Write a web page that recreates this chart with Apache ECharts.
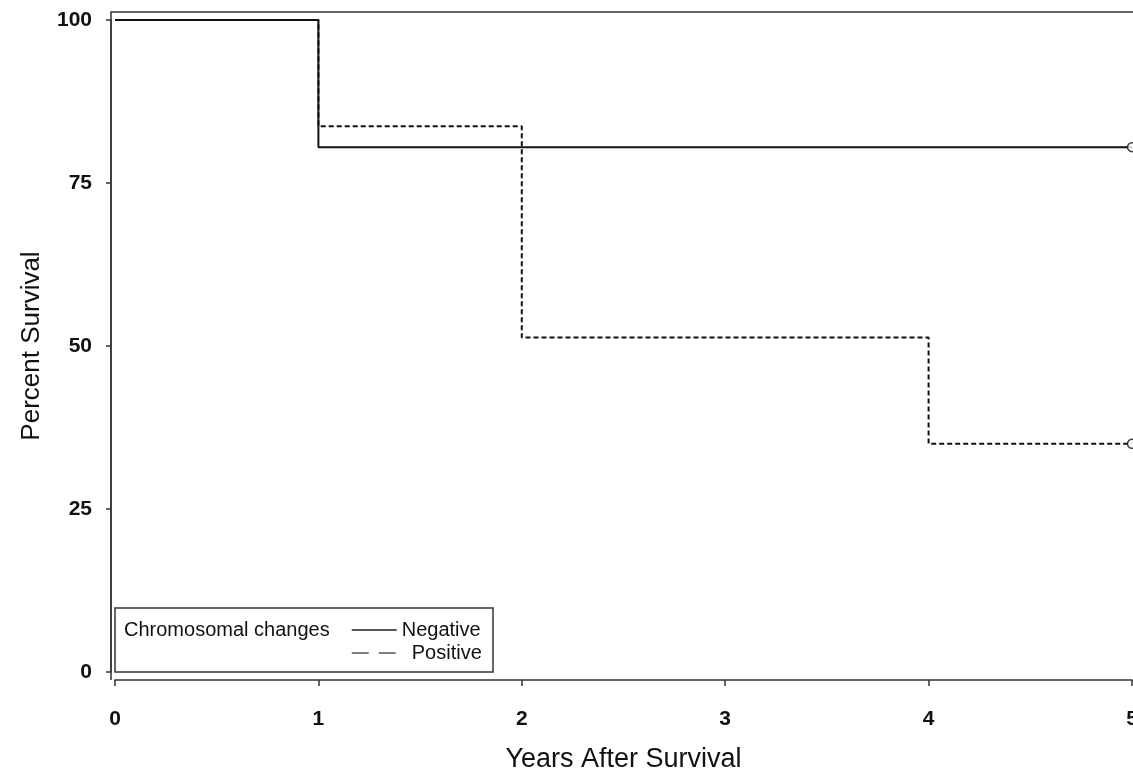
<!DOCTYPE html>
<html>
<head>
<meta charset="utf-8">
<script src="https://cdn.jsdelivr.net/npm/echarts@6/dist/echarts.min.js"></script>
<style>
html,body{margin:0;padding:0;background:#fff;}
#chart{width:1133px;height:772px;}
</style>
</head>
<body>
<div id="chart"></div>
<script>
// Data (Kaplan-Meier step curves)
const negYears = [0, 1, 5];
const negSurvival = [100, 80.5, 80.5];
const posYears = [0, 1, 2, 4, 5];
const posSurvival = [100, 83.7, 51.3, 35.0, 35.0];
const negCensorYears = [5];
const negCensorSurvival = [80.5];
const posCensorYears = [5];
const posCensorSurvival = [35.0];
const xTicks = [0, 1, 2, 3, 4, 5];
const yTicks = [0, 25, 50, 75, 100];
const groupTitle = 'Chromosomal changes';
const seriesNames = ['Negative', 'Positive'];

const zip = (a, b) => a.map((v, i) => [v, b[i]]);

const chart = echarts.init(document.getElementById('chart'), null, {renderer: 'canvas'});
const tickFont = {fontFamily: 'Liberation Sans, Arial, sans-serif', fontWeight: 'bold', fontSize: 21, color: '#111'};
const titleFont = {fontFamily: 'Liberation Sans, Arial, sans-serif', fontSize: 26, color: '#111'};
const hiddenSymbol = {color: 'rgba(0,0,0,0)', borderWidth: 0, borderColor: 'rgba(0,0,0,0)'};

chart.setOption({
  backgroundColor: '#fff',
  animation: false,
  color: ['#111', '#111', '#111', '#111'],
  grid: {left: 115, right: 1, top: 20, bottom: 100, containLabel: false, outerBoundsMode: 'none'},
  xAxis: {
    type: 'value',
    min: xTicks[0], max: xTicks[xTicks.length - 1], interval: 1,
    offset: 8,
    name: 'Years After Survival',
    nameLocation: 'middle',
    nameGap: 66,
    nameTextStyle: Object.assign({}, titleFont, {fontSize: 27}),
    axisLine: {show: true, onZero: false, lineStyle: {color: '#333', width: 1.5}},
    axisTick: {show: true, length: 6, lineStyle: {color: '#333', width: 1.5}},
    axisLabel: Object.assign({margin: 29, showMaxLabel: true, showMinLabel: true, hideOverlap: false}, tickFont),
    splitLine: {show: false}
  },
  yAxis: {
    type: 'value',
    min: yTicks[0], max: yTicks[yTicks.length - 1], interval: 25,
    offset: 4,
    name: 'Percent Survival',
    nameLocation: 'middle',
    nameGap: 66,
    nameTextStyle: titleFont,
    axisLine: {show: true, onZero: false, lineStyle: {color: '#333', width: 1.5}},
    axisTick: {show: true, length: 5, lineStyle: {color: '#333', width: 1.5}},
    axisLabel: Object.assign({margin: 19}, tickFont),
    splitLine: {show: false}
  },
  legend: {
    orient: 'vertical',
    left: 351,
    top: 620,
    padding: 0,
    z: 10,
    itemWidth: 45,
    itemHeight: 20,
    itemGap: 3,
    selectedMode: false,
    data: [
      {name: seriesNames[0], lineStyle: {color: '#222', width: 1.5, type: 'solid'}, itemStyle: hiddenSymbol},
      {name: seriesNames[1], lineStyle: {color: '#555', width: 1.5, type: [17, 10]}, itemStyle: hiddenSymbol}
    ],
    formatter: name => name === seriesNames[1] ? '{p|' + name + '}' : '{n|' + name + '}',
    textStyle: {
      fontFamily: 'Liberation Sans, Arial, sans-serif', fontSize: 20, color: '#111',
      rich: {
        n: {fontFamily: 'Liberation Sans, Arial, sans-serif', fontSize: 20, color: '#111', lineHeight: 20},
        p: {fontFamily: 'Liberation Sans, Arial, sans-serif', fontSize: 20, color: '#111', lineHeight: 20, padding: [0, 0, 0, 10]}
      }
    }
  },
  graphic: [
    {
      type: 'polyline', silent: true, z: 1,
      shape: {points: [[1140, 12], [111, 12], [111, 680]]},
      style: {stroke: '#333', lineWidth: 1.5, fill: null}
    },
    {
      type: 'rect', silent: true, z: 5,
      shape: {x: 115, y: 608, width: 378, height: 64},
      style: {stroke: '#333', lineWidth: 1.5, fill: '#fff'}
    },
    {
      type: 'text', silent: true, z: 6,
      left: 124, top: 620,
      style: {text: groupTitle, fontFamily: 'Liberation Sans, Arial, sans-serif', fontSize: 20, fill: '#111'}
    }
  ],
  series: [
    {
      name: seriesNames[0], type: 'line', step: 'end',
      data: zip(negYears, negSurvival),
      symbol: 'none', z: 3, color: '#111',
      lineStyle: {color: '#111', width: 2, type: 'solid'}
    },
    {
      name: seriesNames[1], type: 'line', step: 'end',
      data: zip(posYears, posSurvival),
      symbol: 'none', z: 3, color: '#111',
      lineStyle: {color: '#111', width: 2, type: [5, 3]}
    },
    {
      name: 'censorNeg', type: 'scatter',
      data: zip(negCensorYears, negCensorSurvival),
      symbol: 'circle', symbolSize: 9, clip: false,
      itemStyle: {color: '#fff', borderColor: '#111', borderWidth: 1.5}, z: 4
    },
    {
      name: 'censorPos', type: 'scatter',
      data: zip(posCensorYears, posCensorSurvival),
      symbol: 'circle', symbolSize: 9, clip: false,
      itemStyle: {color: '#fff', borderColor: '#111', borderWidth: 1.5}, z: 4
    }
  ]
});
</script>
</body>
</html>
